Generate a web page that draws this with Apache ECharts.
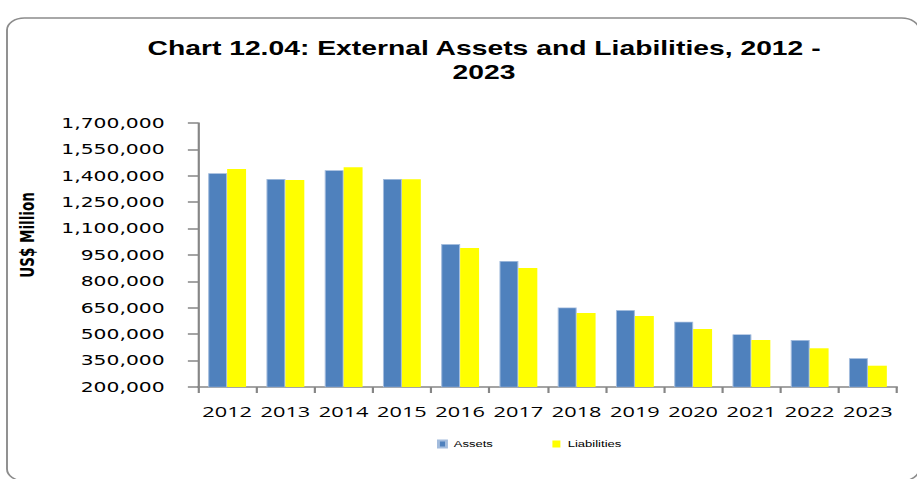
<!DOCTYPE html>
<html>
<head>
<meta charset="utf-8">
<script src="https://cdn.jsdelivr.net/npm/echarts@6/dist/echarts.min.js"></script>
<style>
html, body { margin: 0; padding: 0; background: #ffffff; overflow: hidden; width: 917px; height: 479px; }
#chart { width: 632px; height: 479px; transform: scaleX(1.451); transform-origin: 0 0; }
</style>
</head>
<body>
<div id="chart"></div>
<script>
// ---- data ----
const years = ['2012', '2013', '2014', '2015', '2016', '2017', '2018', '2019', '2020', '2021', '2022', '2023'];
const assets = [1414000, 1382000, 1431000, 1382000, 1012000, 916000, 651000, 636000, 571000, 499000, 467000, 363000];
const liabilities = [1438000, 1376000, 1448000, 1381000, 990000, 876000, 620000, 603000, 530000, 467000, 420000, 321000];
const yMin = 200000;
const yMax = 1700000;
const yStep = 150000;
const seriesNames = ['Assets', 'Liabilities'];
const titleText = 'Chart 12.04: External Assets and Liabilities, 2012 -\n2023';
const yName = 'US$ Million';

// ---- layout helpers (chart is drawn 632px wide and stretched to 917px) ----
const W = 632;
const S = 917 / W;
const px = x => x / S;

const chart = echarts.init(document.getElementById('chart'), null, { renderer: 'svg' });
chart.setOption({
  animation: false,
  backgroundColor: '#ffffff',
  title: {
    text: titleText,
    left: px(484),
    top: 36,
    textAlign: 'center',
    padding: 0,
    textStyle: { fontFamily: 'Liberation Sans', fontWeight: 'bold', fontSize: 19.5, lineHeight: 24, color: '#000000' }
  },
  legend: {
    data: seriesNames,
    left: px(437),
    top: 438,
    padding: 0,
    icon: 'rect',
    itemWidth: px(445) - px(437),
    itemHeight: 7,
    itemGap: 41,
    textStyle: { fontFamily: 'Liberation Sans', fontSize: 9, lineHeight: 12, color: '#000000' }
  },
  graphic: [
    {
      type: 'rect',
      z: -10,
      silent: true,
      shape: { x: px(7), y: 18, width: px(919) - px(7), height: 481 - 18, r: 12 },
      style: { fill: 'none', stroke: '#8c8c8c', lineWidth: 1.3 }
    },
    {
      type: 'text',
      x: px(27),
      y: 235,
      rotation: Math.PI / 2,
      silent: true,
      style: {
        text: yName,
        fontFamily: 'DejaVu Sans',
        fontWeight: 'bold',
        fontSize: 13.5,
        fill: '#000000',
        align: 'center',
        verticalAlign: 'middle'
      }
    }
  ],
  grid: {
    left: px(198),
    right: W - px(897),
    top: 123,
    bottom: 92,
    containLabel: false,
    outerBoundsMode: 'none'
  },
  xAxis: {
    type: 'category',
    data: years,
    axisLine: { show: true, lineStyle: { color: '#868686', width: 1.5 } },
    axisTick: { show: true, length: 6, lineStyle: { color: '#868686', width: 1.5 } },
    splitLine: { show: false },
    axisLabel: { margin: 16, fontFamily: 'Open Sans', fontSize: 15, color: '#000000', interval: 0 }
  },
  yAxis: {
    type: 'value',
    min: yMin,
    max: yMax,
    interval: yStep,
    axisLine: { show: true, lineStyle: { color: '#868686', width: 1.5 } },
    axisTick: { show: true, length: 7, lineStyle: { color: '#868686', width: 1.5 } },
    splitLine: { show: false },
    axisLabel: {
      margin: 23,
      fontFamily: 'DejaVu Sans',
      fontSize: 14,
      color: '#000000',
      formatter: v => v.toLocaleString('en-US')
    }
  },
  series: [
    {
      name: seriesNames[0],
      type: 'bar',
      data: assets,
      barGap: '0%',
      barCategoryGap: '35%',
      itemStyle: { color: '#4F81BD', borderColor: '#A3BCDD', borderWidth: 0.7 }
    },
    {
      name: seriesNames[1],
      type: 'bar',
      data: liabilities,
      barGap: '0%',
      barCategoryGap: '35%',
      itemStyle: { color: '#FFFF00' }
    }
  ]
});
</script>
</body>
</html>
